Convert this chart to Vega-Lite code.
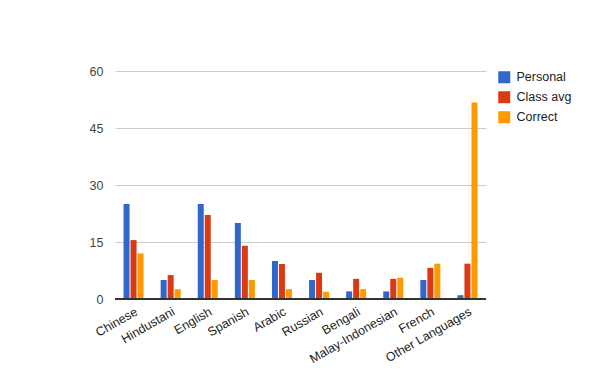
{
  "$schema": "https://vega.github.io/schema/vega-lite/v6.json",
  "autosize": {"type": "none"},
  "width": 371,
  "height": 228,
  "padding": {"left": 115, "top": 71, "right": 114, "bottom": 72},
  "background": "white",
  "config": {
    "view": {"stroke": null},
    "font": "Liberation Sans"
  },
  "data": {
    "values": [
      {"lang": "Chinese", "series": "Personal", "value": 25},
      {"lang": "Chinese", "series": "Class avg", "value": 15.5},
      {"lang": "Chinese", "series": "Correct", "value": 12},
      {"lang": "Hindustani", "series": "Personal", "value": 5},
      {"lang": "Hindustani", "series": "Class avg", "value": 6.3},
      {"lang": "Hindustani", "series": "Correct", "value": 2.6},
      {"lang": "English", "series": "Personal", "value": 25},
      {"lang": "English", "series": "Class avg", "value": 22.1},
      {"lang": "English", "series": "Correct", "value": 5},
      {"lang": "Spanish", "series": "Personal", "value": 20},
      {"lang": "Spanish", "series": "Class avg", "value": 14},
      {"lang": "Spanish", "series": "Correct", "value": 5},
      {"lang": "Arabic", "series": "Personal", "value": 10},
      {"lang": "Arabic", "series": "Class avg", "value": 9.2},
      {"lang": "Arabic", "series": "Correct", "value": 2.6},
      {"lang": "Russian", "series": "Personal", "value": 5},
      {"lang": "Russian", "series": "Class avg", "value": 6.9},
      {"lang": "Russian", "series": "Correct", "value": 1.9},
      {"lang": "Bengali", "series": "Personal", "value": 2},
      {"lang": "Bengali", "series": "Class avg", "value": 5.3},
      {"lang": "Bengali", "series": "Correct", "value": 2.6},
      {"lang": "Malay-Indonesian", "series": "Personal", "value": 2},
      {"lang": "Malay-Indonesian", "series": "Class avg", "value": 5.3},
      {"lang": "Malay-Indonesian", "series": "Correct", "value": 5.6},
      {"lang": "French", "series": "Personal", "value": 5},
      {"lang": "French", "series": "Class avg", "value": 8.2},
      {"lang": "French", "series": "Correct", "value": 9.3},
      {"lang": "Other Languages", "series": "Personal", "value": 1},
      {"lang": "Other Languages", "series": "Class avg", "value": 9.3},
      {"lang": "Other Languages", "series": "Correct", "value": 51.7}
    ]
  },
  "layer": [
    {
      "mark": {"type": "bar", "width": 6},
      "encoding": {
        "x": {
          "field": "lang", "type": "nominal", "sort": null,
          "scale": {"paddingInner": 0.434, "paddingOuter": 0.217},
          "axis": {
            "title": null, "domain": false, "ticks": false,
            "labelAngle": -30, "labelAlign": "right", "labelBaseline": "top",
            "labelFontSize": 12.5, "labelColor": "#222", "labelPadding": 6,
            "labelFont": "Liberation Sans", "labelOverlap": false
          }
        },
        "xOffset": {"field": "series", "type": "nominal", "sort": ["Personal", "Class avg", "Correct"], "scale": {"paddingInner": 0, "paddingOuter": 0}},
        "y": {
          "field": "value", "type": "quantitative",
          "scale": {"domain": [0, 60], "nice": false},
          "axis": {
            "title": null, "domain": false, "ticks": false,
            "values": [0, 15, 30, 45, 60],
            "gridColor": "#cccccc", "labelFontSize": 12.5, "labelColor": "#444",
            "labelPadding": 12, "labelFont": "Liberation Sans"
          }
        },
        "color": {
          "field": "series", "type": "nominal",
          "sort": ["Personal", "Class avg", "Correct"],
          "scale": {"domain": ["Personal", "Class avg", "Correct"], "range": ["#3366cc", "#dc3912", "#ff9900"]},
          "legend": {
            "title": null, "orient": "none", "legendX": 383, "legendY": 0,
            "symbolType": "square", "symbolSize": 144, "symbolStrokeWidth": 0,
            "labelFontSize": 12.5, "labelColor": "#222", "rowPadding": 7,
            "labelFont": "Liberation Sans", "labelOffset": 6
          }
        }
      }
    },
    {
      "mark": {"type": "rule", "color": "#333333", "strokeWidth": 1.5},
      "encoding": {"y": {"datum": 0, "type": "quantitative"}}
    }
  ]
}
